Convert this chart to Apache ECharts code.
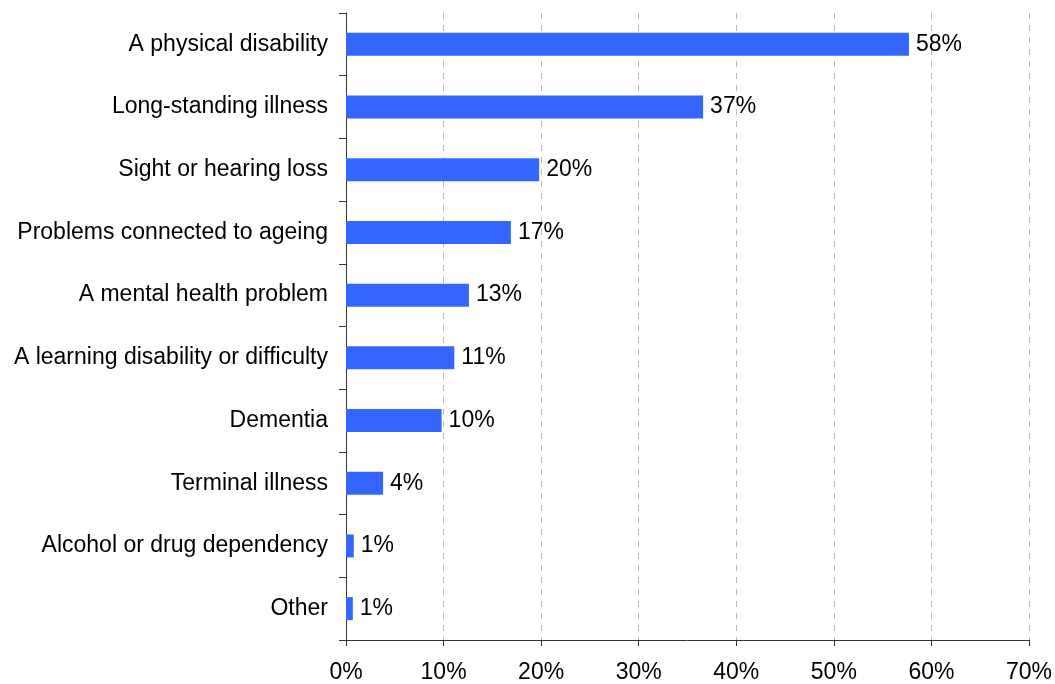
<!DOCTYPE html>
<html><head><meta charset="utf-8">
<script src="https://cdn.jsdelivr.net/npm/echarts@6/dist/echarts.min.js"></script>
<style>html,body{margin:0;padding:0;background:#fff}#c{width:1055px;height:684px}</style>
</head><body><div id="c"></div>
<script>
const categories = ["A physical disability","Long-standing illness","Sight or hearing loss","Problems connected to ageing","A mental health problem","A learning disability or difficulty","Dementia","Terminal illness","Alcohol or drug dependency","Other"];
const values = [57.7, 36.6, 19.8, 16.9, 12.6, 11.1, 9.8, 3.8, 0.8, 0.7];
const labels = ["58%","37%","20%","17%","13%","11%","10%","4%","1%","1%"];
const xTicks = [0,10,20,30,40,50,60,70];

const chart = echarts.init(document.getElementById('c'), null, {renderer:'canvas'});
const font = 'Liberation Sans, Arial, sans-serif';
const fs = 23;
chart.setOption({
  animation:false,
  grid:{left:346,right:23,top:13,bottom:43,containLabel:false},
  xAxis:{type:'value',min:xTicks[0],max:xTicks[xTicks.length-1],interval:10,
    axisLine:{show:true,lineStyle:{color:'#333',width:1}},
    axisTick:{show:true,length:6,lineStyle:{color:'#333'}},
    axisLabel:{formatter:v=>v+'%',color:'#000',fontSize:fs,fontFamily:font,margin:21},
    splitLine:{show:true,lineStyle:{color:'#bbb',type:[6,6],width:1}}},
  yAxis:{type:'category',data:categories,inverse:true,
    axisLine:{show:true,lineStyle:{color:'#333',width:1}},
    axisTick:{show:true,length:7,lineStyle:{color:'#333'}},
    axisLabel:{color:'#000',fontSize:fs,fontFamily:font,margin:18}},
  series:[{type:'bar',data:values,barWidth:23,
    itemStyle:{color:'#3366FF'},
    label:{show:true,position:'right',distance:7,color:'#000',fontSize:fs,fontFamily:font,
      formatter:p=>labels[p.dataIndex]}}]
});
</script></body></html>
